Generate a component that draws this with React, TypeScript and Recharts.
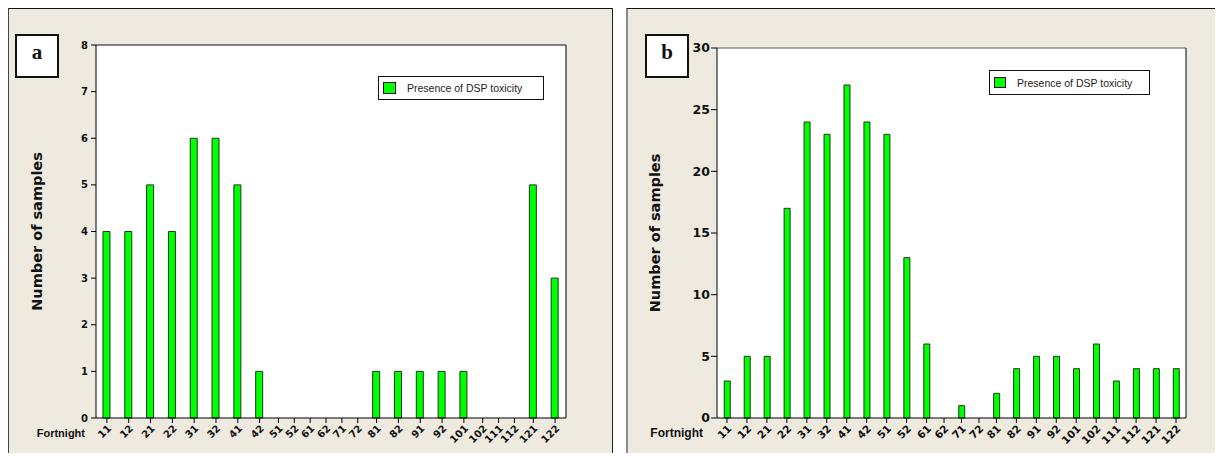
import React from 'react';
import {
  BarChart,
  Bar,
  XAxis,
  YAxis,
  CartesianGrid,
  ReferenceLine,
  Legend,
} from 'recharts';

// Fortnight codes (month + half) used on both panels
const fortnights = [
  '11', '12', '21', '22', '31', '32', '41', '42', '51', '52', '61', '62',
  '71', '72', '81', '82', '91', '92', '101', '102', '111', '112', '121', '122',
];

// Panel a: number of samples with DSP toxicity
const samplesA = [4, 4, 5, 4, 6, 6, 5, 1, 0, 0, 0, 0, 0, 0, 1, 1, 1, 1, 1, 0, 0, 0, 5, 3];
// Panel b: number of samples with DSP toxicity
const samplesB = [3, 5, 5, 17, 24, 23, 27, 24, 23, 13, 6, 0, 1, 0, 2, 4, 5, 5, 4, 6, 3, 4, 4, 4];

const yTicksA = [0, 1, 2, 3, 4, 5, 6, 7, 8];
const yTicksB = [0, 5, 10, 15, 20, 25, 30];

const SERIES_NAME = 'Presence of DSP toxicity';
const BAR_FILL = '#00ff00';
const BAR_STROKE = '#1d3a1d';
const PANEL_BG = '#eeeae0';
const SANS = '"Liberation Sans", Arial, sans-serif';
const WIDE = '"DejaVu Sans", Verdana, sans-serif';

type Row = { pos: number; fortnight: string; samples: number };

// Empty fortnights occupy a narrower slot on the x axis than fortnights with samples.
function buildRows(values: number[], wide: number, narrow: number) {
  let cursor = 0;
  const rows: Row[] = values.map((v, i) => {
    const w = v > 0 ? wide : narrow;
    const pos = cursor + w / 2;
    cursor += w;
    return { pos, fortnight: fortnights[i], samples: v };
  });
  return { rows, span: cursor };
}

function LegendBox({ width, height, swatch, textSize }: any) {
  return (
    <div
      style={{
        width,
        height,
        boxSizing: 'border-box',
        border: '1px solid #111',
        background: '#fff',
        display: 'flex',
        alignItems: 'center',
      }}
    >
      <div
        style={{
          width: swatch,
          height: swatch - 1,
          marginLeft: 4,
          boxSizing: 'border-box',
          border: '1px solid #111',
          background: BAR_FILL,
        }}
      />
      <span
        style={{
          marginLeft: 11,
          fontFamily: SANS,
          fontSize: textSize,
          color: '#222',
          whiteSpace: 'nowrap',
        }}
      >
        {SERIES_NAME}
      </span>
    </div>
  );
}

type PanelProps = {
  values: number[];
  wide: number;
  narrow: number;
  yMax: number;
  yTicks: number[];
  left: number;
  width: number;
  top: number;
  right: number;
  yAxisWidth: number;
  yTickSize: number;
  yTickMargin: number;
  yFont: number;
  xFont: number;
  titleFont: number;
  titleOffset: number;
  fortnightFont: number;
  fortnightOffset: number;
  barSize: number;
  frameTop: string;
  legend: { left: number; top: number; width: number; height: number; swatch: number };
};

function Panel(p: PanelProps) {
  const { rows, span } = buildRows(p.values, p.wide, p.narrow);
  const labels = new Map(rows.map((r) => [r.pos, r.fortnight]));
  return (
    <div style={{ position: 'absolute', left: p.left, top: 0 }}>
      <BarChart
        width={p.width}
        height={461}
        data={rows}
        margin={{ top: p.top, right: p.right, bottom: 13, left: 0 }}
      >
        <CartesianGrid fill="#ffffff" horizontal={false} vertical={false} />
        <XAxis
          type="number"
          dataKey="pos"
          domain={[0, span]}
          ticks={rows.map((r) => r.pos)}
          interval={0}
          height={30}
          tickSize={5}
          tickMargin={1}
          axisLine={{ stroke: '#000' }}
          tickLine={{ stroke: '#000' }}
          tickFormatter={(v: number) => labels.get(v) ?? ''}
          angle={-45}
          tick={{
            fill: '#111',
            fontFamily: WIDE,
            fontWeight: 700,
            fontSize: p.xFont,
            textAnchor: 'end',
            verticalAnchor: 'start',
            angle: -45,
          }}
          label={{
            value: 'Fortnight',
            position: 'left',
            offset: p.fortnightOffset,
            fill: '#111',
            style: { fontFamily: SANS, fontWeight: 700, fontSize: p.fortnightFont },
          }}
        />
        <YAxis
          type="number"
          domain={[0, p.yMax]}
          ticks={p.yTicks}
          interval={0}
          width={p.yAxisWidth}
          tickSize={p.yTickSize}
          tickMargin={p.yTickMargin}
          axisLine={{ stroke: '#000' }}
          tickLine={{ stroke: '#000' }}
          tick={{ fill: '#111', fontFamily: WIDE, fontWeight: 700, fontSize: p.yFont }}
          label={{
            value: 'Number of samples',
            angle: -90,
            position: 'insideLeft',
            offset: p.titleOffset,
            fill: '#111',
            style: {
              textAnchor: 'middle',
              fontFamily: WIDE,
              fontWeight: 700,
              fontSize: p.titleFont,
            },
          }}
        />
        <ReferenceLine y={p.yMax} stroke={p.frameTop} strokeWidth={1} />
        <ReferenceLine x={span} stroke="#000" strokeWidth={1} />
        <Legend
          layout="vertical"
          align="center"
          verticalAlign="middle"
          wrapperStyle={{ left: p.legend.left, top: p.legend.top, width: p.legend.width }}
          content={() => (
            <LegendBox
              width={p.legend.width}
              height={p.legend.height}
              swatch={p.legend.swatch}
              textSize={10.5}
            />
          )}
        />
        <Bar
          dataKey="samples"
          name={SERIES_NAME}
          fill={BAR_FILL}
          stroke={BAR_STROKE}
          strokeWidth={1}
          barSize={p.barSize}
          isAnimationActive={false}
        />
      </BarChart>
    </div>
  );
}

function TagBox({ left, letter }: { left: number; letter: string }) {
  return (
    <div
      style={{
        position: 'absolute',
        left,
        top: 34,
        width: 44,
        height: 44,
        boxSizing: 'border-box',
        border: '2px solid #111',
        background: '#fff',
        fontFamily: '"Liberation Serif", "Times New Roman", serif',
        fontWeight: 700,
        fontSize: 21,
        lineHeight: '32px',
        textAlign: 'center',
        color: '#111',
      }}
    >
      {letter}
    </div>
  );
}

export default function App() {
  return (
    <div
      style={{
        position: 'relative',
        width: 1223,
        height: 461,
        margin: -8,
        overflow: 'hidden',
        background: '#fff',
      }}
    >
      {/* panel frames */}
      <div
        style={{
          position: 'absolute',
          left: 8,
          top: 8,
          width: 603,
          height: 470,
          background: PANEL_BG,
          borderLeft: '1px solid #444',
          borderTop: '1px solid #111',
          borderRight: '1px solid #222',
        }}
      />
      <div
        style={{
          position: 'absolute',
          left: 626,
          top: 8,
          width: 620,
          height: 470,
          background: PANEL_BG,
          borderLeft: '2px solid #8a8a8a',
          borderTop: '1px solid #111',
        }}
      />
      <TagBox left={15} letter="a" />
      <TagBox left={645} letter="b" />
      <Panel
        values={samplesA}
        wide={22}
        narrow={16}
        yMax={8}
        yTicks={yTicksA}
        left={0}
        width={612}
        top={45}
        right={46}
        yAxisWidth={96}
        yTickSize={5}
        yTickMargin={3}
        yFont={10}
        xFont={10}
        titleFont={14.5}
        titleOffset={37}
        fortnightFont={11}
        fortnightOffset={11}
        barSize={7}
        frameTop="#111"
        legend={{ left: 378, top: 76, width: 166, height: 24, swatch: 13 }}
      />
      <Panel
        values={samplesB}
        wide={20}
        narrow={15}
        yMax={30}
        yTicks={yTicksB}
        left={613}
        width={610}
        top={48}
        right={37}
        yAxisWidth={104}
        yTickSize={6}
        yTickMargin={1}
        yFont={12.5}
        xFont={10.5}
        titleFont={14.5}
        titleOffset={42}
        fortnightFont={12}
        fortnightOffset={14}
        barSize={6}
        frameTop="#555"
        legend={{ left: 376, top: 70, width: 161, height: 25, swatch: 12 }}
      />
    </div>
  );
}
